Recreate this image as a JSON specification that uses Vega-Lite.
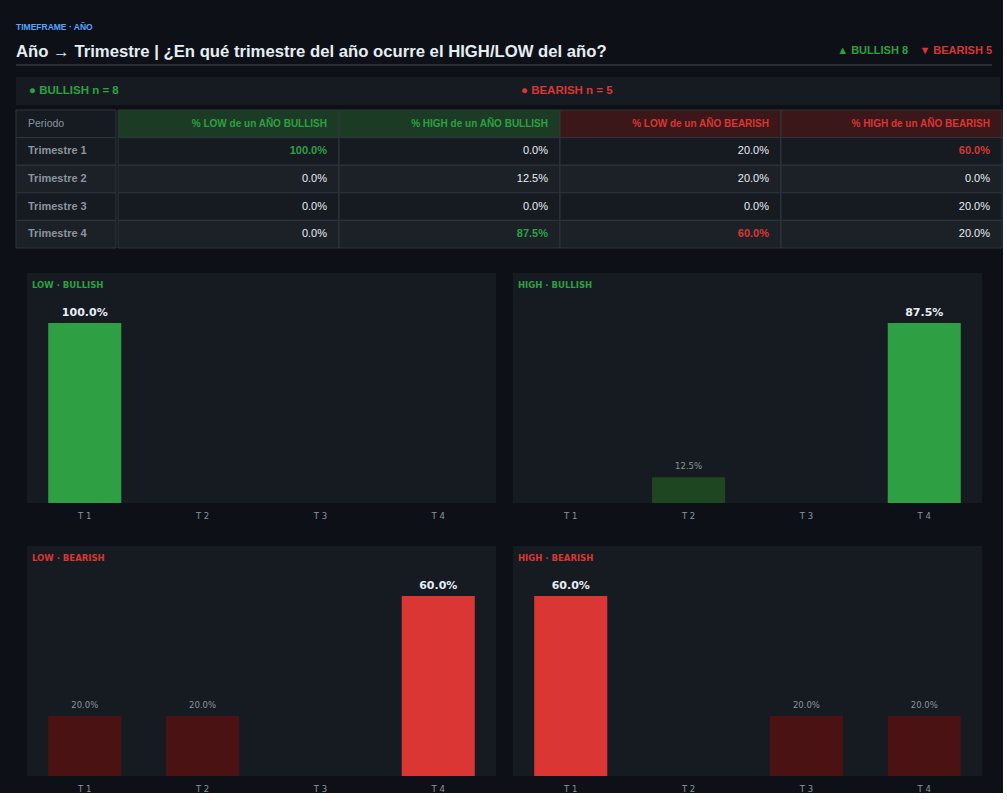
{
  "$schema": "https://vega.github.io/schema/vega-lite/v6.json",
  "background": "#0d1117",
  "padding": {"left": 15, "top": 22, "right": 0, "bottom": 0},
  "config": {
    "view": {"stroke": null},
    "axis": {"grid": false},
    "axisX": {
      "title": null, "ticks": false, "domain": false, "labelAngle": 0,
      "labelColor": "#8b949e", "labelFont": "DejaVu Sans", "labelFontSize": 8.5, "labelPadding": 8
    }
  },
  "datasets": {
    "dist": [
      {"trimestre": "Trimestre 1", "q": "T 1", "extreme": "LOW", "trend": "BULLISH", "pct": 100},
      {"trimestre": "Trimestre 2", "q": "T 2", "extreme": "LOW", "trend": "BULLISH", "pct": 0},
      {"trimestre": "Trimestre 3", "q": "T 3", "extreme": "LOW", "trend": "BULLISH", "pct": 0},
      {"trimestre": "Trimestre 4", "q": "T 4", "extreme": "LOW", "trend": "BULLISH", "pct": 0},
      {"trimestre": "Trimestre 1", "q": "T 1", "extreme": "HIGH", "trend": "BULLISH", "pct": 0},
      {"trimestre": "Trimestre 2", "q": "T 2", "extreme": "HIGH", "trend": "BULLISH", "pct": 12.5},
      {"trimestre": "Trimestre 3", "q": "T 3", "extreme": "HIGH", "trend": "BULLISH", "pct": 0},
      {"trimestre": "Trimestre 4", "q": "T 4", "extreme": "HIGH", "trend": "BULLISH", "pct": 87.5},
      {"trimestre": "Trimestre 1", "q": "T 1", "extreme": "LOW", "trend": "BEARISH", "pct": 20},
      {"trimestre": "Trimestre 2", "q": "T 2", "extreme": "LOW", "trend": "BEARISH", "pct": 20},
      {"trimestre": "Trimestre 3", "q": "T 3", "extreme": "LOW", "trend": "BEARISH", "pct": 0},
      {"trimestre": "Trimestre 4", "q": "T 4", "extreme": "LOW", "trend": "BEARISH", "pct": 60},
      {"trimestre": "Trimestre 1", "q": "T 1", "extreme": "HIGH", "trend": "BEARISH", "pct": 60},
      {"trimestre": "Trimestre 2", "q": "T 2", "extreme": "HIGH", "trend": "BEARISH", "pct": 0},
      {"trimestre": "Trimestre 3", "q": "T 3", "extreme": "HIGH", "trend": "BEARISH", "pct": 20},
      {"trimestre": "Trimestre 4", "q": "T 4", "extreme": "HIGH", "trend": "BEARISH", "pct": 20}
    ],
    "trends": [
      {"trend": "BULLISH", "n": 8},
      {"trend": "BEARISH", "n": 5}
    ]
  },
  "spacing": 24,
  "vconcat": [
    {
      "spacing": 4,
      "vconcat": [
        {
          "spacing": 11,
          "vconcat": [
            {
              "width": 976,
              "height": 32,
              "title": {
                "text": "TIMEFRAME · AÑO",
                "subtitle": "Año → Trimestre | ¿En qué trimestre del año ocurre el HIGH/LOW del año?",
                "anchor": "start", "frame": "group", "offset": -28,
                "font": "Liberation Sans", "fontSize": 8.5, "fontWeight": "bold", "color": "#58a6ff",
                "subtitleFont": "Liberation Sans", "subtitleFontSize": 16.7, "subtitleFontWeight": "bold",
                "subtitleColor": "#e6edf3", "subtitlePadding": 13
              },
              "data": {"name": "trends"},
              "transform": [
                {"calculate": "(datum.trend === 'BULLISH' ? '▲ ' : '▼ ') + datum.trend + ' ' + datum.n", "as": "label"}
              ],
              "layer": [
                {
                  "mark": {"type": "text", "align": "right", "baseline": "middle", "dy": 2, "font": "Liberation Sans", "fontSize": 11, "fontWeight": "bold"},
                  "encoding": {
                    "x": {"field": "trend", "type": "nominal", "axis": null,
                          "scale": {"type": "point", "domain": ["BULLISH", "BEARISH"], "range": [892, 976], "padding": 0}},
                    "text": {"field": "label"},
                    "color": {"field": "trend", "type": "nominal", "legend": null,
                              "scale": {"domain": ["BULLISH", "BEARISH"], "range": ["#2ea043", "#da3633"]}}
                  }
                },
                {
                  "mark": {"type": "rule", "color": "#30363d", "strokeWidth": 1},
                  "encoding": {"x": {"value": 0}, "x2": {"value": "width"}, "y": {"value": "height"}}
                }
              ]
            },
            {
              "width": 984,
              "height": 28,
              "view": {"fill": "#161b22"},
              "data": {"name": "trends"},
              "transform": [
                {"calculate": "'● ' + datum.trend + ' n = ' + datum.n", "as": "label"}
              ],
              "mark": {"type": "text", "align": "left", "baseline": "middle", "dx": 13, "font": "Liberation Sans", "fontSize": 11.5, "fontWeight": "bold"},
              "encoding": {
                "x": {"field": "trend", "type": "nominal", "axis": null, "bandPosition": 0,
                      "scale": {"type": "band", "domain": ["BULLISH", "BEARISH"], "paddingInner": 0, "paddingOuter": 0}},
                "text": {"field": "label"},
                "color": {"field": "trend", "type": "nominal", "legend": null,
                          "scale": {"domain": ["BULLISH", "BEARISH"], "range": ["#2ea043", "#da3633"]}}
              }
            }
          ]
        },
        {
          "spacing": 0,
          "hconcat": [
            {
              "width": 100,
              "height": 138,
              "data": {"name": "dist"},
              "transform": [
                {"filter": "datum.extreme === 'LOW' && datum.trend === 'BULLISH'"}
              ],
              "encoding": {
                "y": {"field": "trimestre", "type": "nominal", "axis": null,
                      "scale": {"domain": ["Periodo", "Trimestre 1", "Trimestre 2", "Trimestre 3", "Trimestre 4"], "paddingInner": 0, "paddingOuter": 0}}
              },
              "layer": [
                {
                  "mark": {"type": "rect", "stroke": "#30363d", "strokeWidth": 1},
                  "encoding": {
                    "fill": {"condition": {"test": "datum.trimestre === 'Trimestre 2' || datum.trimestre === 'Trimestre 4'", "value": "#1c2128"}, "value": "#161b22"}
                  }
                },
                {
                  "transform": [{"filter": "datum.trimestre === 'Trimestre 1'"}],
                  "mark": {"type": "rect", "stroke": "#30363d", "strokeWidth": 1, "fill": "#161b22"},
                  "encoding": {"y": {"datum": "Periodo"}}
                },
                {
                  "mark": {"type": "text", "align": "left", "baseline": "middle", "dx": 12, "font": "Liberation Sans", "fontSize": 11, "fontWeight": "bold", "color": "#8b949e"},
                  "encoding": {"x": {"value": 0}, "text": {"field": "trimestre"}}
                },
                {
                  "transform": [{"filter": "datum.trimestre === 'Trimestre 1'"}, {"calculate": "'Periodo'", "as": "head"}],
                  "mark": {"type": "text", "align": "left", "baseline": "middle", "dx": 12, "font": "Liberation Sans", "fontSize": 10.5, "color": "#8b949e"},
                  "encoding": {"x": {"value": 0}, "y": {"datum": "Periodo"}, "text": {"field": "head"}}
                }
              ]
            },
            {
              "width": 884,
              "height": 138,
              "data": {"name": "dist"},
              "transform": [
                {"calculate": "'% ' + datum.extreme + ' de un AÑO ' + datum.trend", "as": "col"},
                {"joinaggregate": [{"op": "max", "field": "pct", "as": "maxPct"}], "groupby": ["col"]},
                {"calculate": "datum.pct > 0 && datum.pct === datum.maxPct", "as": "isMax"},
                {"calculate": "format(datum.pct, '.1f') + '%'", "as": "label"}
              ],
              "encoding": {
                "x": {"field": "col", "type": "nominal", "axis": null,
                      "scale": {"domain": ["% LOW de un AÑO BULLISH", "% HIGH de un AÑO BULLISH", "% LOW de un AÑO BEARISH", "% HIGH de un AÑO BEARISH"], "paddingInner": 0, "paddingOuter": 0}},
                "y": {"field": "trimestre", "type": "nominal", "axis": null,
                      "scale": {"domain": ["Periodo", "Trimestre 1", "Trimestre 2", "Trimestre 3", "Trimestre 4"], "paddingInner": 0, "paddingOuter": 0}}
              },
              "layer": [
                {
                  "mark": {"type": "rect", "stroke": "#30363d", "strokeWidth": 1},
                  "encoding": {
                    "fill": {"condition": {"test": "datum.trimestre === 'Trimestre 2' || datum.trimestre === 'Trimestre 4'", "value": "#1c2128"}, "value": "#161b22"}
                  }
                },
                {
                  "transform": [{"filter": "datum.trimestre === 'Trimestre 1'"}],
                  "mark": {"type": "rect", "stroke": "#30363d", "strokeWidth": 1},
                  "encoding": {
                    "y": {"datum": "Periodo"},
                    "fill": {"condition": {"test": "datum.trend === 'BULLISH'", "value": "#1b3b24"}, "value": "#3b1719"}
                  }
                },
                {
                  "transform": [{"filter": "datum.trimestre === 'Trimestre 1'"}],
                  "mark": {"type": "text", "align": "right", "baseline": "middle", "dx": -12, "font": "Liberation Sans", "fontSize": 10, "fontWeight": "bold"},
                  "encoding": {
                    "x": {"field": "col", "type": "nominal", "bandPosition": 1},
                    "y": {"datum": "Periodo"},
                    "text": {"field": "col"},
                    "color": {"condition": {"test": "datum.trend === 'BULLISH'", "value": "#2ea043"}, "value": "#da3633"}
                  }
                },
                {
                  "transform": [{"filter": "!datum.isMax"}],
                  "mark": {"type": "text", "align": "right", "baseline": "middle", "dx": -12, "font": "Liberation Sans", "fontSize": 11, "color": "#e6edf3"},
                  "encoding": {
                    "x": {"field": "col", "type": "nominal", "bandPosition": 1},
                    "text": {"field": "label"}
                  }
                },
                {
                  "transform": [{"filter": "datum.isMax"}],
                  "mark": {"type": "text", "align": "right", "baseline": "middle", "dx": -12, "font": "Liberation Sans", "fontSize": 11, "fontWeight": "bold"},
                  "encoding": {
                    "x": {"field": "col", "type": "nominal", "bandPosition": 1},
                    "text": {"field": "label"},
                    "color": {"condition": {"test": "datum.trend === 'BULLISH'", "value": "#2ea043"}, "value": "#da3633"}
                  }
                }
              ]
            }
          ]
        }
      ]
    },
    {
      "spacing": 10,
      "hconcat": [
        {
          "width": 1, "height": 1,
          "data": {"values": []},
          "mark": {"type": "point", "opacity": 0}
        },
        {
          "columns": 2,
          "spacing": {"row": 26, "column": 17},
          "concat": [
            {
              "width": 469, "height": 230,
              "view": {"fill": "#161b22"},
              "title": {"text": "LOW  ·  BULLISH", "color": "#2ea043", "anchor": "start", "frame": "group", "offset": -16, "dx": 5, "font": "DejaVu Sans", "fontSize": 8.5, "fontWeight": "bold"},
              "data": {"name": "dist"},
              "transform": [
                {"filter": "datum.extreme === 'LOW' && datum.trend === 'BULLISH'"},
                {"joinaggregate": [{"op": "max", "field": "pct", "as": "maxPct"}]},
                {"calculate": "datum.pct > 0 && datum.pct === datum.maxPct", "as": "isMax"},
                {"calculate": "format(datum.pct, '.1f') + '%'", "as": "label"}
              ],
              "encoding": {
                "x": {"field": "q", "type": "nominal", "scale": {"domain": ["T 1", "T 2", "T 3", "T 4"], "paddingInner": 0.38, "paddingOuter": 0.18}},
                "y": {"field": "pct", "type": "quantitative", "axis": null, "scale": {"domain": [0, 127.8], "nice": false}}
              },
              "layer": [
                {"mark": {"type": "bar"}, "encoding": {"color": {"condition": {"test": "datum.isMax", "value": "#2ea043"}, "value": "#1e4620"}}},
                {"transform": [{"filter": "datum.isMax"}], "mark": {"type": "text", "baseline": "bottom", "dy": -5, "font": "DejaVu Sans", "fontSize": 11, "fontWeight": "bold", "color": "#e6edf3"}, "encoding": {"text": {"field": "label"}}},
                {"transform": [{"filter": "!datum.isMax && datum.pct > 0"}], "mark": {"type": "text", "baseline": "bottom", "dy": -6, "font": "DejaVu Sans", "fontSize": 8.5, "color": "#8b949e"}, "encoding": {"text": {"field": "label"}}}
              ]
            },
            {
              "width": 469, "height": 230,
              "view": {"fill": "#161b22"},
              "title": {"text": "HIGH  ·  BULLISH", "color": "#2ea043", "anchor": "start", "frame": "group", "offset": -16, "dx": 5, "font": "DejaVu Sans", "fontSize": 8.5, "fontWeight": "bold"},
              "data": {"name": "dist"},
              "transform": [
                {"filter": "datum.extreme === 'HIGH' && datum.trend === 'BULLISH'"},
                {"joinaggregate": [{"op": "max", "field": "pct", "as": "maxPct"}]},
                {"calculate": "datum.pct > 0 && datum.pct === datum.maxPct", "as": "isMax"},
                {"calculate": "format(datum.pct, '.1f') + '%'", "as": "label"}
              ],
              "encoding": {
                "x": {"field": "q", "type": "nominal", "scale": {"domain": ["T 1", "T 2", "T 3", "T 4"], "paddingInner": 0.38, "paddingOuter": 0.18}},
                "y": {"field": "pct", "type": "quantitative", "axis": null, "scale": {"domain": [0, 111.8], "nice": false}}
              },
              "layer": [
                {"mark": {"type": "bar"}, "encoding": {"color": {"condition": {"test": "datum.isMax", "value": "#2ea043"}, "value": "#1e4620"}}},
                {"transform": [{"filter": "datum.isMax"}], "mark": {"type": "text", "baseline": "bottom", "dy": -5, "font": "DejaVu Sans", "fontSize": 11, "fontWeight": "bold", "color": "#e6edf3"}, "encoding": {"text": {"field": "label"}}},
                {"transform": [{"filter": "!datum.isMax && datum.pct > 0"}], "mark": {"type": "text", "baseline": "bottom", "dy": -6, "font": "DejaVu Sans", "fontSize": 8.5, "color": "#8b949e"}, "encoding": {"text": {"field": "label"}}}
              ]
            },
            {
              "width": 469, "height": 230,
              "view": {"fill": "#161b22"},
              "title": {"text": "LOW  ·  BEARISH", "color": "#da3633", "anchor": "start", "frame": "group", "offset": -16, "dx": 5, "font": "DejaVu Sans", "fontSize": 8.5, "fontWeight": "bold"},
              "data": {"name": "dist"},
              "transform": [
                {"filter": "datum.extreme === 'LOW' && datum.trend === 'BEARISH'"},
                {"joinaggregate": [{"op": "max", "field": "pct", "as": "maxPct"}]},
                {"calculate": "datum.pct > 0 && datum.pct === datum.maxPct", "as": "isMax"},
                {"calculate": "format(datum.pct, '.1f') + '%'", "as": "label"}
              ],
              "encoding": {
                "x": {"field": "q", "type": "nominal", "scale": {"domain": ["T 1", "T 2", "T 3", "T 4"], "paddingInner": 0.38, "paddingOuter": 0.18}},
                "y": {"field": "pct", "type": "quantitative", "axis": null, "scale": {"domain": [0, 76.7], "nice": false}}
              },
              "layer": [
                {"mark": {"type": "bar"}, "encoding": {"color": {"condition": {"test": "datum.isMax", "value": "#da3633"}, "value": "#4a1213"}}},
                {"transform": [{"filter": "datum.isMax"}], "mark": {"type": "text", "baseline": "bottom", "dy": -5, "font": "DejaVu Sans", "fontSize": 11, "fontWeight": "bold", "color": "#e6edf3"}, "encoding": {"text": {"field": "label"}}},
                {"transform": [{"filter": "!datum.isMax && datum.pct > 0"}], "mark": {"type": "text", "baseline": "bottom", "dy": -6, "font": "DejaVu Sans", "fontSize": 8.5, "color": "#8b949e"}, "encoding": {"text": {"field": "label"}}}
              ]
            },
            {
              "width": 469, "height": 230,
              "view": {"fill": "#161b22"},
              "title": {"text": "HIGH  ·  BEARISH", "color": "#da3633", "anchor": "start", "frame": "group", "offset": -16, "dx": 5, "font": "DejaVu Sans", "fontSize": 8.5, "fontWeight": "bold"},
              "data": {"name": "dist"},
              "transform": [
                {"filter": "datum.extreme === 'HIGH' && datum.trend === 'BEARISH'"},
                {"joinaggregate": [{"op": "max", "field": "pct", "as": "maxPct"}]},
                {"calculate": "datum.pct > 0 && datum.pct === datum.maxPct", "as": "isMax"},
                {"calculate": "format(datum.pct, '.1f') + '%'", "as": "label"}
              ],
              "encoding": {
                "x": {"field": "q", "type": "nominal", "scale": {"domain": ["T 1", "T 2", "T 3", "T 4"], "paddingInner": 0.38, "paddingOuter": 0.18}},
                "y": {"field": "pct", "type": "quantitative", "axis": null, "scale": {"domain": [0, 76.7], "nice": false}}
              },
              "layer": [
                {"mark": {"type": "bar"}, "encoding": {"color": {"condition": {"test": "datum.isMax", "value": "#da3633"}, "value": "#4a1213"}}},
                {"transform": [{"filter": "datum.isMax"}], "mark": {"type": "text", "baseline": "bottom", "dy": -5, "font": "DejaVu Sans", "fontSize": 11, "fontWeight": "bold", "color": "#e6edf3"}, "encoding": {"text": {"field": "label"}}},
                {"transform": [{"filter": "!datum.isMax && datum.pct > 0"}], "mark": {"type": "text", "baseline": "bottom", "dy": -6, "font": "DejaVu Sans", "fontSize": 8.5, "color": "#8b949e"}, "encoding": {"text": {"field": "label"}}}
              ]
            }
          ]
        }
      ]
    }
  ]
}
